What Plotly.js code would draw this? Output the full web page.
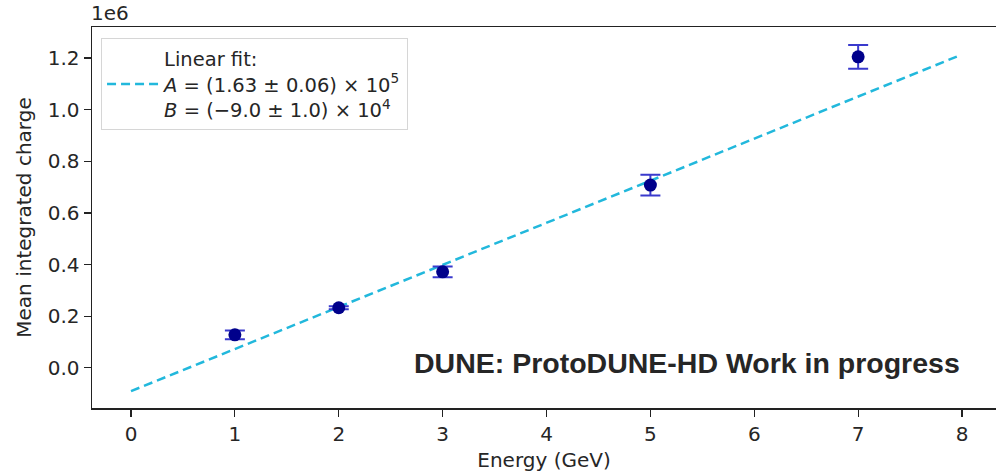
<!DOCTYPE html>
<html>
<head>
<meta charset="utf-8">
<script src="https://cdn.plot.ly/plotly-3.0.1.min.js"></script>
<style>
  html, body { margin: 0; padding: 0; background: #ffffff; }
  #chart { width: 996px; height: 476px; }
</style>
</head>
<body>
<div id="chart"></div>
<script>
// Data
const energy = [1, 2, 3, 5, 7];
const meanCharge = [128000, 233000, 372000, 708000, 1205000];
const chargeErr = [17000, 6000, 21000, 40000, 46000];

// Linear fit (parameters from legend), endpoints of the drawn line
const fitA = 1.63e5;
const fitB = -9.0e4;
const fitX = [0, 7.96];
const fitY = [-90000, 1207500];

const yTickVals = [0, 200000, 400000, 600000, 800000, 1000000, 1200000];
const yTickText = ['0.0', '0.2', '0.4', '0.6', '0.8', '1.0', '1.2'];
const xTickVals = [0, 1, 2, 3, 4, 5, 6, 7, 8];

const fitName = 'Linear fit:<br><i>A</i> = (1.63 ± 0.06) × 10<sup>5</sup><br><i>B</i> = (−9.0 ± 1.0) × 10<sup>4</sup>';

const traces = [
  {
    x: fitX, y: fitY, type: 'scatter', mode: 'lines',
    name: fitName,
    line: { color: '#22b8dc', width: 2.5, dash: '9px,5px' },
    hoverinfo: 'skip'
  },
  {
    x: energy, y: meanCharge, type: 'scatter', mode: 'markers',
    name: 'data', showlegend: false,
    marker: { color: '#00008b', size: 13 },
    error_y: { type: 'data', array: chargeErr, visible: true, color: '#3a3acd', thickness: 2, width: 10 }
  }
];

const FAM = 'DejaVu Sans, sans-serif';
const TXT = '#262626';

const layout = {
  width: 996, height: 476,
  margin: { l: 92, r: 0, t: 27, b: 68, pad: 0 },
  paper_bgcolor: '#ffffff', plot_bgcolor: '#ffffff',
  font: { family: FAM, size: 20, color: TXT },
  showlegend: true,
  legend: {
    x: 0.01, y: 0.97, xanchor: 'left', yanchor: 'top',
    bgcolor: 'rgba(255,255,255,0.8)', bordercolor: '#d6d6d6', borderwidth: 1,
    font: { family: FAM, size: 19.5, color: TXT },
    itemwidth: 52
  },
  xaxis: {
    range: [-0.3755, 8.327],
    tickvals: xTickVals,
    ticks: 'outside', ticklen: 7, tickwidth: 1.2, tickcolor: '#222',
    tickfont: { family: FAM, size: 20, color: TXT },
    showline: true, linecolor: '#222', linewidth: 1.5, mirror: true,
    showgrid: false, zeroline: false,
    title: { text: 'Energy (GeV)', font: { family: FAM, size: 20, color: TXT }, standoff: 8 }
  },
  yaxis: {
    range: [-155300, 1320400],
    tickvals: yTickVals, ticktext: yTickText,
    ticks: 'outside', ticklen: 7, tickwidth: 1.2, tickcolor: '#222',
    tickfont: { family: FAM, size: 20, color: TXT },
    showline: true, linecolor: '#222', linewidth: 1.5, mirror: false,
    showgrid: false, zeroline: false,
    title: { text: 'Mean integrated charge', font: { family: FAM, size: 20, color: TXT }, standoff: 10 }
  },
  annotations: [
    {
      xref: 'paper', yref: 'paper', x: -0.003, y: 1, xanchor: 'left', yanchor: 'bottom',
      text: '1e6', showarrow: false, yshift: 0,
      font: { family: FAM, size: 20, color: TXT }
    },
    {
      xref: 'x', yref: 'y', x: 8.0, y: 20000, xanchor: 'right', yanchor: 'middle',
      text: '<b>DUNE: ProtoDUNE-HD Work in progress</b>', showarrow: false,
      font: { family: 'Liberation Sans, Arial, sans-serif', size: 28.5, color: TXT }
    }
  ]
};

Plotly.newPlot('chart', traces, layout, { displayModeBar: false, staticPlot: true });
</script>
</body>
</html>
